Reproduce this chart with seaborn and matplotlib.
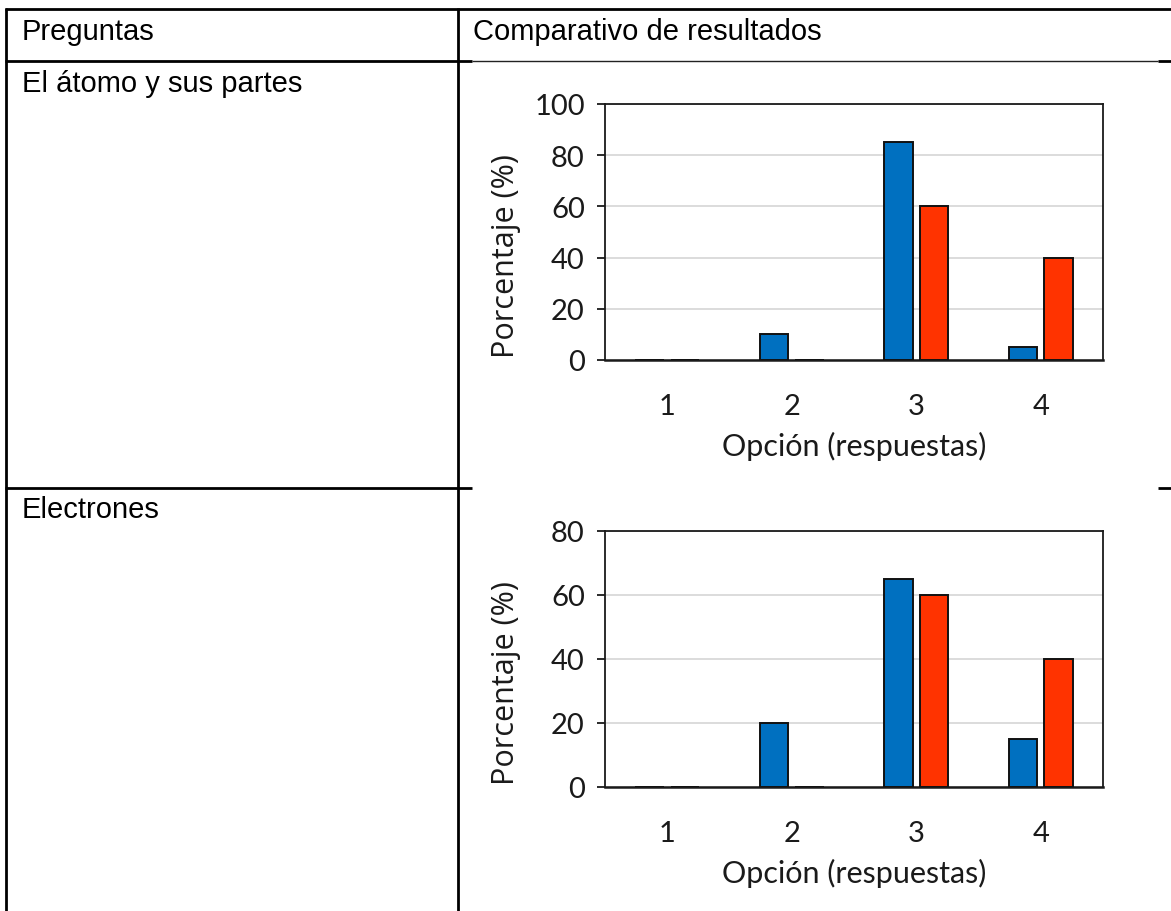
import matplotlib
matplotlib.use("Agg")
import matplotlib.pyplot as plt
from matplotlib.lines import Line2D
import pandas as pd
import seaborn as sns

# ---- data -------------------------------------------------------------
opciones = ["1", "2", "3", "4"]
series = ["Serie 1", "Serie 2"]

atomo_serie1 = [0, 10, 85, 5]
atomo_serie2 = [0, 0, 60, 40]

electrones_serie1 = [0, 20, 65, 15]
electrones_serie2 = [0, 0, 60, 40]

encabezados = ["Preguntas", "Comparativo de resultados"]
preguntas = ["El átomo y sus partes", "Electrones"]

y_max = [100, 80]
y_ticks = [[0, 20, 40, 60, 80, 100], [0, 20, 40, 60, 80]]

colores = ["#0070C0", "#FF3300"]

W, H = 1171, 912
sns.set_theme(style="white")
plt.rcParams["font.family"] = ["Lato", "DejaVu Sans"]
plt.rcParams["text.color"] = "#1a1a1a"
plt.rcParams["axes.labelcolor"] = "#1a1a1a"
plt.rcParams["xtick.color"] = "#1a1a1a"
plt.rcParams["ytick.color"] = "#1a1a1a"

fig = plt.figure(figsize=(W / 100, H / 100), dpi=100)
fig.patch.set_facecolor("white")


def fx(x):
    return x / W


def fy(y):
    return 1 - y / H


def linea(x0, y0, x1, y1, lw=2.0, color="black"):
    fig.add_artist(Line2D([fx(x0), fx(x1)], [fy(y0), fy(y1)],
                          transform=fig.transFigure, color=color, lw=lw,
                          solid_capstyle="butt"))


# ---- table frame --------------------------------------------------------
linea(5, 10, W, 10)
linea(6, 9, 6, H)
linea(458, 9, 458, H)
linea(5, 62, 472, 62)
linea(472, 62, 1158, 62, lw=1.0, color="#222222")
linea(1158, 62, W, 62)
linea(5, 489, 472, 489)
linea(1158, 489, W, 489)

tabla_font = dict(family=["Liberation Sans", "DejaVu Sans"], fontsize=21,
                  color="black", va="center", ha="left")
fig.text(fx(22), fy(32), encabezados[0], **tabla_font)
fig.text(fx(473), fy(32), encabezados[1], **tabla_font)
fig.text(fx(22), fy(84), preguntas[0], **tabla_font)
fig.text(fx(22), fy(510), preguntas[1], **tabla_font)


# ---- charts -------------------------------------------------------------
def grafico(top, bottom, s1, s2, ymax, ticks):
    left, right = 605, 1103
    ax = fig.add_axes([fx(left), fy(bottom), (right - left) / W, (bottom - top) / H])
    df = pd.DataFrame({
        "Opción": opciones * 2,
        "Serie": [series[0]] * 4 + [series[1]] * 4,
        "Porcentaje": s1 + s2,
    })
    sns.barplot(data=df, x="Opción", y="Porcentaje", hue="Serie",
                palette=colores, saturation=1, width=0.57, gap=0.2,
                edgecolor="#111111", linewidth=1.4, legend=False, ax=ax,
                zorder=3)
    ax.set_xlim(-0.5, 3.5)
    ax.set_ylim(0, ymax)
    ax.set_yticks(ticks)
    ax.yaxis.grid(True, color="#D9D9D9", lw=1.3, zorder=0)
    ax.xaxis.grid(False)
    ax.set_axisbelow(True)
    for s in ax.spines.values():
        s.set_visible(True)
        s.set_color("#1a1a1a")
        s.set_linewidth(1.3)
    ax.spines["bottom"].set_linewidth(1.8)
    ax.tick_params(axis="y", which="major", left=True, length=6, width=1.3,
                   color="#1a1a1a", labelsize=21, pad=8.5)
    ax.tick_params(axis="x", bottom=False, labelsize=21, pad=18)
    ax.set_xlabel("Opción (respuestas)", fontsize=22, labelpad=8)
    ax.set_ylabel("Porcentaje (%)", fontsize=22,
                  family=["Open Sans", "DejaVu Sans"])
    ax.yaxis.set_label_coords(-0.168, 0.41)
    return ax


grafico(105, 361, atomo_serie1, atomo_serie2, y_max[0], y_ticks[0])
grafico(532, 788, electrones_serie1, electrones_serie2, y_max[1], y_ticks[1])

fig.savefig("out.png", dpi=100, facecolor="white")
